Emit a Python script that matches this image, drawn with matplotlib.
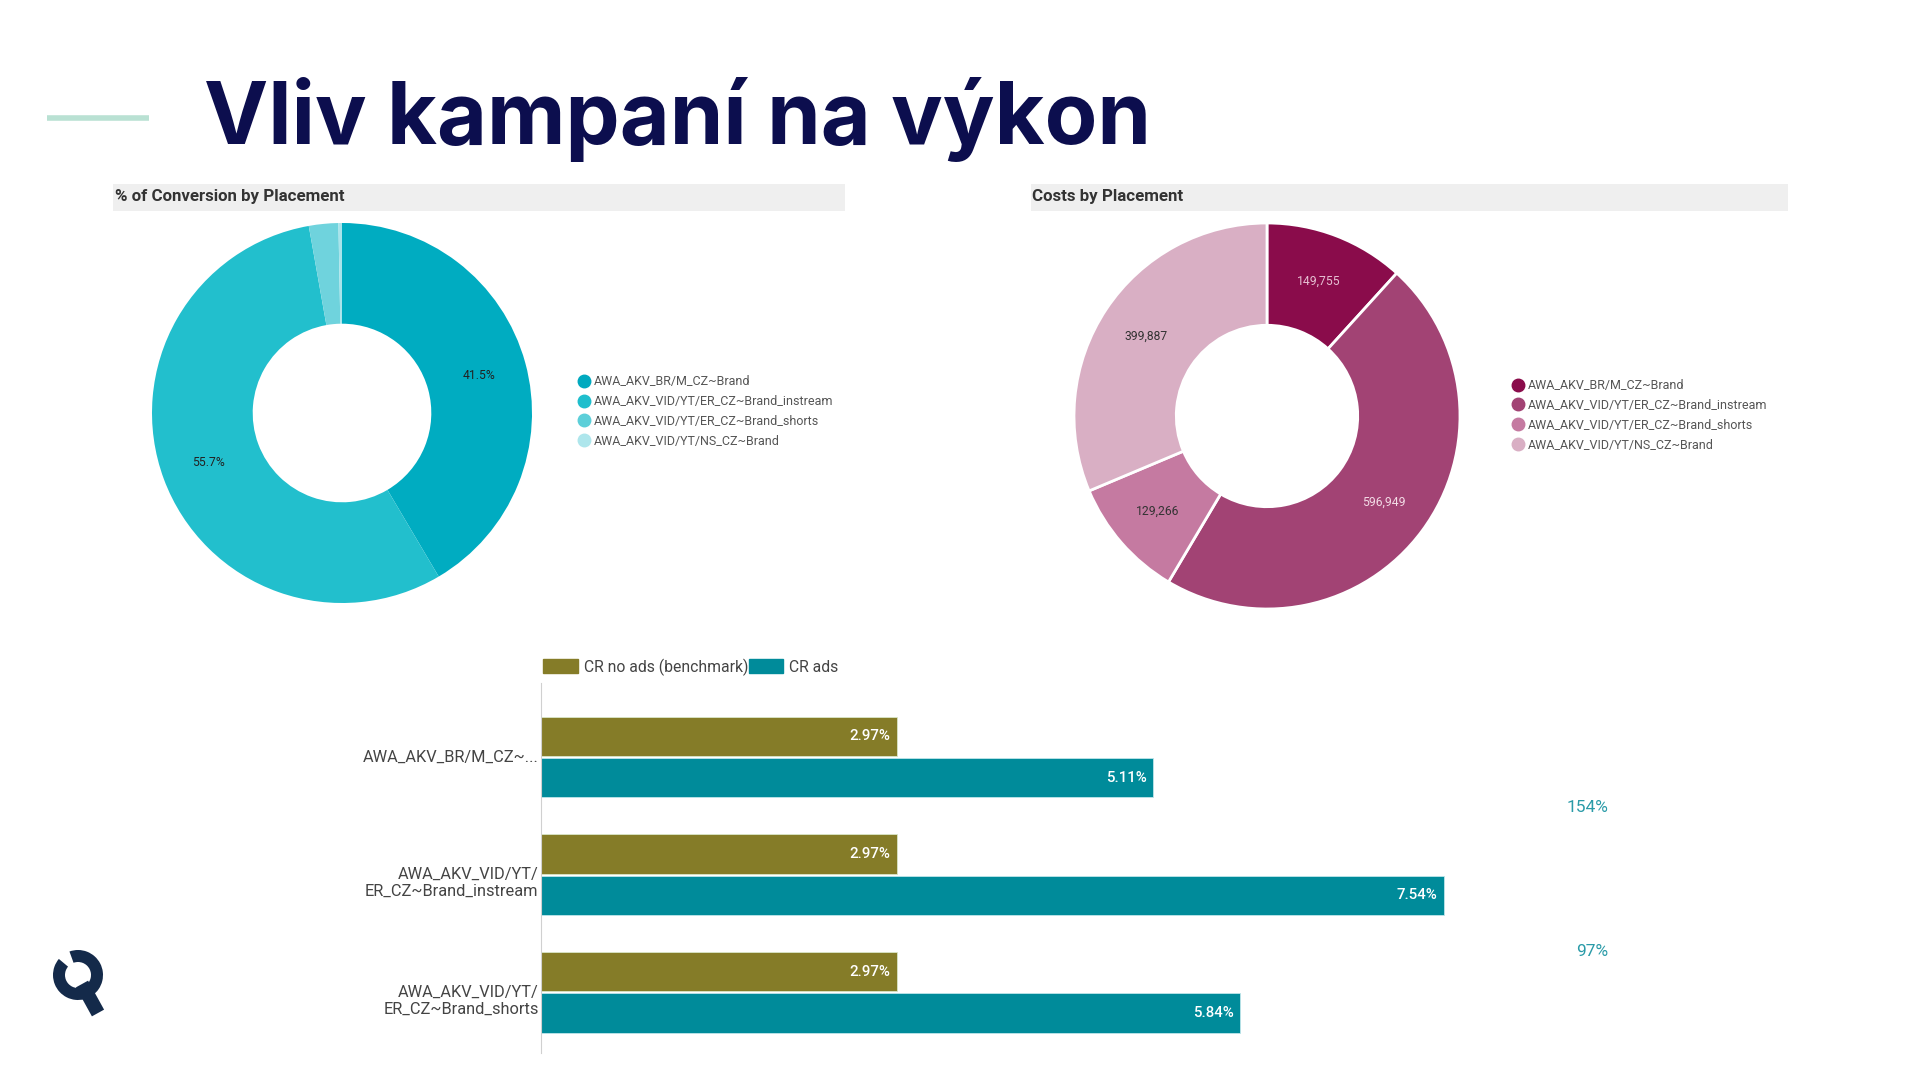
import numpy as np
import matplotlib
matplotlib.use("Agg")
import matplotlib.pyplot as plt
from matplotlib.patches import Rectangle, Wedge, Patch
from matplotlib.lines import Line2D

plt.rcParams['font.family'] = ['Roboto', 'DejaVu Sans']

# data
placements = ["AWA_AKV_BR/M_CZ~Brand", "AWA_AKV_VID/YT/ER_CZ~Brand_instream",
              "AWA_AKV_VID/YT/ER_CZ~Brand_shorts", "AWA_AKV_VID/YT/NS_CZ~Brand"]
conv_share = [41.5, 55.7, 2.5, 0.3]
costs = [149755, 596949, 129266, 399887]

bar_labels = ["AWA_AKV_BR/M_CZ~...", "AWA_AKV_VID/YT/\nER_CZ~Brand_instream",
              "AWA_AKV_VID/YT/\nER_CZ~Brand_shorts"]
cr_no_ads = [2.97, 2.97, 2.97]
cr_ads = [5.11, 7.54, 5.84]
uplift = ["154%", "97%"]

teal_cols = ["#00acc1", "#22bfcd", "#6fd3dd", "#a9e4eb"]
teal_legend = ["#00a9bf", "#1ebecd", "#5ccfd9", "#aee6ec"]
pink_cols = ["#8a0c4b", "#a24374", "#c57aa1", "#d9afc4"]
olive = "#857c28"
teal_bar = "#008b9a"
navy = "#0c0e4e"

W, H = 1920, 1080
fig = plt.figure(figsize=(19.2, 10.8), dpi=100)
fig.patch.set_facecolor("white")

# overlay in pixel coordinates
bg = fig.add_axes([0, 0, 1, 1])
bg.set_xlim(0, W)
bg.set_ylim(H, 0)
bg.axis("off")

# title + accent line
bg.plot([47, 149], [118, 118], color="#b9e1d3", lw=4, solid_capstyle="butt")
bg.text(204, 144, "Vliv kampaní na výkon", fontsize=62, fontweight="bold",
        family=["Inter", "DejaVu Sans"], color=navy, va="baseline", ha="left")

# header bars
bg.add_patch(Rectangle((113, 184), 732, 27, color="#efefef", lw=0))
bg.add_patch(Rectangle((1031, 184), 757, 27, color="#efefef", lw=0))
bg.text(115, 196, "% of Conversion by Placement", fontsize=12.2, fontweight="bold",
        color="#333333", va="center")
bg.text(1032, 197, "Costs by Placement", fontsize=12.2, fontweight="bold",
        color="#333333", va="center")

# logo
bg.add_patch(Wedge((78, 975), 25, 250, 220, width=12, color="#142a4a", lw=0))
bg.plot([82, 98], [984, 1013], color="#142a4a", lw=10, solid_capstyle="butt")


def donut(cx, cy, r, values, colors, edge):
    ax = fig.add_axes([(cx - r) / W, (H - cy - r) / H, 2 * r / W, 2 * r / H])
    wedges, _ = ax.pie(values, colors=colors, startangle=90, counterclock=False,
                       radius=1, wedgeprops=dict(width=0.53, edgecolor=edge,
                                                 linewidth=2 if edge == "white" else 0))
    ax.set_xlim(-1, 1)
    ax.set_ylim(-1, 1)
    ax.set_aspect("equal")
    return ax, wedges


ax1, w1 = donut(342, 413, 190, conv_share, teal_cols, "none")
for w, v in zip(w1, conv_share):
    if v < 5:
        continue
    a = np.deg2rad((w.theta1 + w.theta2) / 2)
    ax1.text(0.75 * np.cos(a), 0.75 * np.sin(a), f"{v}%", fontsize=8.7,
             ha="center", va="center", color="#222222")

ax2, w2 = donut(1267, 416, 193, costs, pink_cols, "white")
lab_cols = ["#e6bfd2", "#f3dbe6", "#333333", "#333333"]
for w, v, c in zip(w2, costs, lab_cols):
    a = np.deg2rad((w.theta1 + w.theta2) / 2)
    ax2.text(0.75 * np.cos(a), 0.75 * np.sin(a), f"{v:,}", fontsize=8.7,
             ha="center", va="center", color=c)


def dot_legend(x, y, colors):
    handles = [Line2D([], [], marker="o", ls="none", ms=9, mfc=c, mec=c) for c in colors]
    leg = fig.legend(handles, placements, loc="upper left",
                     bbox_to_anchor=(x / W, 1 - y / H), frameon=False,
                     fontsize=9, handletextpad=0.25, labelspacing=0.55,
                     handlelength=1.0, borderaxespad=0, borderpad=0)
    for t in leg.get_texts():
        t.set_color("#555555")


dot_legend(578, 375, teal_legend)
dot_legend(1512, 379, pink_cols)

# bar chart
px_per_pct = 119.7
x0, x1 = 541, 1740
y0, y1 = 683, 1053
axb = fig.add_axes([x0 / W, (H - y1) / H, (x1 - x0) / W, (y1 - y0) / H])
axb.set_xlim(0, (x1 - x0) / px_per_pct)
axb.set_ylim(2.516, -0.63)
pos = np.arange(len(bar_labels))
bh, gap = 0.333, 0.02
b1 = axb.barh(pos - (bh + gap) / 2, cr_no_ads, height=bh, color=olive,
              edgecolor="#d9e6c8", linewidth=0.6, label="CR no ads (benchmark)")
b2 = axb.barh(pos + (bh + gap) / 2, cr_ads, height=bh, color=teal_bar,
              edgecolor="#bfe6ea", linewidth=0.6, label="CR ads")
for bars, vals in ((b1, cr_no_ads), (b2, cr_ads)):
    for rect, v in zip(bars, vals):
        axb.text(rect.get_width() - 0.05, rect.get_y() + rect.get_height() / 2,
                 f"{v:.2f}%", ha="right", va="center", color="white",
                 fontsize=10.8, fontweight="medium")

# category labels left of the axis
axb.set_yticks([])
ytrans = axb.get_yaxis_transform()
for p, lab in zip(pos, bar_labels):
    dy = 0.07 if "\n" in lab else 0.0
    axb.text(-0.002, p + dy, lab, transform=ytrans, ha="right", va="center",
             fontsize=11.8, color="#444444", linespacing=1.2, multialignment="right")
axb.set_xticks([])
for s in ("top", "right", "bottom"):
    axb.spines[s].set_visible(False)
axb.spines["left"].set_color("#d0d0d0")
axb.patch.set_alpha(0)

handles = [Patch(color=olive), Patch(color=teal_bar)]
leg = axb.legend(handles, ["CR no ads (benchmark)", "CR ads"], ncol=2,
                 loc="lower left", bbox_to_anchor=(0.002, 1.02), frameon=False,
                 fontsize=11.3, handlelength=2.2, handleheight=1.0,
                 handletextpad=0.4, columnspacing=0.0, borderaxespad=0, borderpad=0)
for t in leg.get_texts():
    t.set_color("#444444")

# uplift annotations
for txt, (x, y) in zip(uplift, [(1588, 808), (1592, 951)]):
    bg.text(x, y, txt, fontsize=12.5, color="#2a9ba8", ha="center", va="center")

fig.savefig("out.png", dpi=100, facecolor="white")
